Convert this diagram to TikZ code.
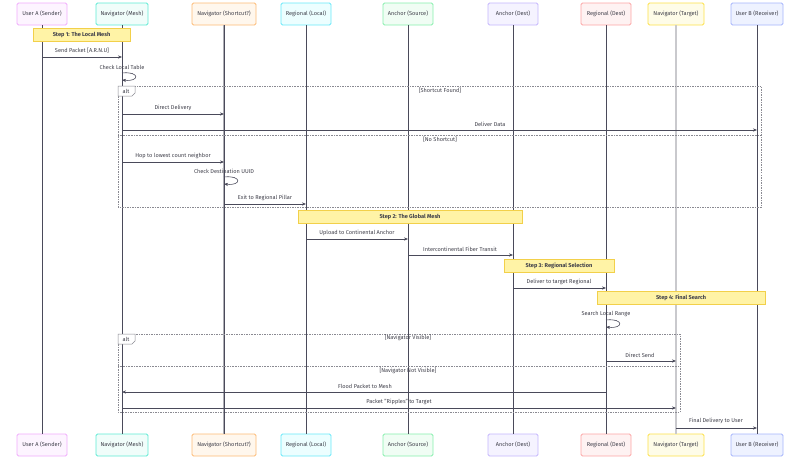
\documentclass[tikz,border=0pt]{standalone}
\usepackage{fontspec}
\setmainfont{Fira Sans}
\usetikzlibrary{arrows.meta}
\definecolor{ink}{HTML}{3F3F4A}
\definecolor{life}{HTML}{4A4A5A}
\definecolor{frame}{HTML}{8A8A92}
\definecolor{notefill}{HTML}{FFF3A6}
\definecolor{notedraw}{HTML}{F2D04A}
\definecolor{pkD}{HTML}{F0ABFC}\definecolor{pkF}{HTML}{FDF4FF}
\definecolor{tlD}{HTML}{5EEAD4}\definecolor{tlF}{HTML}{F0FDFA}
\definecolor{orD}{HTML}{FDBA74}\definecolor{orF}{HTML}{FFF7ED}
\definecolor{cyD}{HTML}{67E8F9}\definecolor{cyF}{HTML}{ECFEFF}
\definecolor{grD}{HTML}{86EFAC}\definecolor{grF}{HTML}{F0FDF4}
\definecolor{viD}{HTML}{C4B5FD}\definecolor{viF}{HTML}{F5F3FF}
\definecolor{rdD}{HTML}{FCA5A5}\definecolor{rdF}{HTML}{FEF2F2}
\definecolor{ylD}{HTML}{FDE047}\definecolor{ylF}{HTML}{FEFCE8}
\definecolor{blD}{HTML}{A5B4FC}\definecolor{blF}{HTML}{EEF2FF}
\tikzset{
  part/.style={draw=#1D, fill=#1F, rounded corners=1.5pt, line width=0.9pt,
    minimum height=22pt, inner sep=1pt, font=\fontsize{5.6}{6.5}\selectfont, text=ink},
  lifeline/.style={draw=life, line width=0.7pt},
  msg/.style={draw=life, line width=0.6pt, -{Stealth[length=4pt,width=3.2pt]}},
  lbl/.style={font=\fontsize{5.6}{6.5}\selectfont, text=ink, inner sep=0.5pt},
  notebox/.style={draw=notedraw, fill=notefill, line width=0.6pt, minimum height=13pt,
    font=\bfseries\fontsize{5.6}{6.5}\selectfont, text=ink, inner sep=1pt},
  framebox/.style={draw=frame, line width=0.5pt, dash pattern=on 1.5pt off 1pt},
  sepline/.style={draw=frame, line width=0.6pt, dash pattern=on 0.8pt off 0.8pt},
  guard/.style={font=\fontsize{5.6}{6.5}\selectfont, text=ink, inner sep=0.5pt},
}
\begin{document}
\begin{tikzpicture}[x=1pt,y=-1pt]
\useasboundingbox (0,0) rectangle (800,471);
% participants top
\node[part=pk, minimum width=50pt] (ua) at (42,14) {User A (Sender)};
\node[part=tl, minimum width=52pt] (nm) at (122,14) {Navigator (Mesh)};
\node[part=or, minimum width=64pt] (ns) at (224,14) {Navigator (Shortcut?)};
\node[part=cy, minimum width=50pt] (rl) at (306,14) {Regional (Local)};
\node[part=gr, minimum width=50pt] (as) at (408,14) {Anchor (Source)};
\node[part=vi, minimum width=50pt] (ad) at (513,14) {Anchor (Dest)};
\node[part=rd, minimum width=50pt] (rd) at (606,14) {Regional (Dest)};
\node[part=yl, minimum width=56pt] (nt) at (676,14) {Navigator (Target)};
\node[part=bl, minimum width=52pt] (ub) at (757,14) {User B (Receiver)};
% participants bottom
\node[part=pk, minimum width=50pt] (ua2) at (42,445) {User A (Sender)};
\node[part=tl, minimum width=52pt] (nm2) at (122,445) {Navigator (Mesh)};
\node[part=or, minimum width=64pt] (ns2) at (224,445) {Navigator (Shortcut?)};
\node[part=cy, minimum width=50pt] (rl2) at (306,445) {Regional (Local)};
\node[part=gr, minimum width=50pt] (as2) at (408,445) {Anchor (Source)};
\node[part=vi, minimum width=50pt] (ad2) at (513,445) {Anchor (Dest)};
\node[part=rd, minimum width=50pt] (rd2) at (606,445) {Regional (Dest)};
\node[part=yl, minimum width=56pt] (nt2) at (676,445) {Navigator (Target)};
\node[part=bl, minimum width=52pt] (ub2) at (757,445) {User B (Receiver)};
% lifelines
\foreach \a in {ua,nm,rl,as,ad,rd,ub}{\draw[lifeline] (\a.south) -- (\a2.north);}
\draw[draw=life!45!white, line width=1.6pt] (ns.south) -- (ns2.north);
\draw[lifeline] (ns.south) -- (ns2.north);
\draw[draw=life!30!white, line width=2pt] (nt.south) -- (nt2.north);
% alt frame 1
\draw[framebox] (118,86) rectangle (761,207);
\draw[sepline] (118,135) -- (761,135);
\draw[draw=frame, fill=white, line width=0.5pt] (118,86) -- (135,86) -- (135,93) -- (132,96) -- (118,96) -- cycle;
\node[guard] (alt1) at (126,91) {alt};
\node[guard] (g1) at (440,91) {[Shortcut Found]};
\node[guard] (g2) at (440,140) {[No Shortcut]};
% alt frame 2
\draw[framebox] (118,334) rectangle (680,412);
\draw[sepline] (118,366) -- (680,366);
\draw[draw=frame, fill=white, line width=0.5pt] (118,334) -- (135,334) -- (135,341) -- (132,344) -- (118,344) -- cycle;
\node[guard] (alt2) at (126,339) {alt};
\node[guard] (g3) at (408,338) {[Navigator Visible]};
\node[guard] (g4) at (408,371) {[Navigator Not Visible]};
% notes
\node[notebox, minimum width=97pt] (n1) at (81.5,34.5) {Step 1: The Local Mesh};
\node[notebox, minimum width=224pt] (n2) at (410,216.5) {Step 2: The Global Mesh};
\node[notebox, minimum width=110pt] (n3) at (559,265.5) {Step 3: Regional Selection};
\node[notebox, minimum width=168pt] (n4) at (681,297.5) {Step 4: Final Search};
% messages
\draw[msg] (ua.south |- 0,57) -- (nm.south |- 0,57);
\node[lbl] (l1) at (82,51) {Send Packet [A.R.N.U]};
\node[lbl] (l2) at (122,67) {Check Local Table};
\draw[msg] (nm.south |- 0,73) .. controls (140,71) and (140,82) .. (nm.south |- 0,80);
\draw[msg] (nm.south |- 0,114) -- (ns.south |- 0,114);
\node[lbl] (l3) at (173,108) {Direct Delivery};
\draw[msg] (nm.south |- 0,130) -- (ub.south |- 0,130);
\node[lbl] (l4) at (490,124) {Deliver Data};
\draw[msg] (nm.south |- 0,162) -- (ns.south |- 0,162);
\node[lbl] (l5) at (173,156) {Hop to lowest count neighbor};
\node[lbl] (l6) at (224,171) {Check Destination UUID};
\draw[msg] (ns.south |- 0,177) .. controls (242,175) and (242,186) .. (ns.south |- 0,184);
\draw[msg] (ns.south |- 0,204) -- (rl.south |- 0,204);
\node[lbl] (l7) at (265,198) {Exit to Regional Pillar};
\draw[msg] (rl.south |- 0,239) -- (as.south |- 0,239);
\node[lbl] (l8) at (357,233) {Upload to Continental Anchor};
\draw[msg] (as.south |- 0,255) -- (ad.south |- 0,255);
\node[lbl] (l9) at (460,249) {Intercontinental Fiber Transit};
\draw[msg] (ad.south |- 0,288) -- (rd.south |- 0,288);
\node[lbl] (l10) at (559,282) {Deliver to target Regional};
\node[lbl] (l11) at (606,314) {Search Local Range};
\draw[msg] (rd.south |- 0,320) .. controls (624,318) and (624,329) .. (rd.south |- 0,327);
\draw[msg] (rd.south |- 0,361) -- (nt.south |- 0,361);
\node[lbl] (l12) at (640,355) {Direct Send};
\draw[msg] (rd.south |- 0,392) -- (nm.south |- 0,392);
\node[lbl] (l13) at (365,386) {Flood Packet to Mesh};
\draw[msg] (nm.south |- 0,408) -- (nt.south |- 0,408);
\node[lbl] (l14) at (399,402) {Packet "Ripples" to Target};
\draw[msg] (nt.south |- 0,428) -- (ub.south |- 0,428);
\node[lbl] (l15) at (716,421) {Final Delivery to User};
\end{tikzpicture}
\end{document}
